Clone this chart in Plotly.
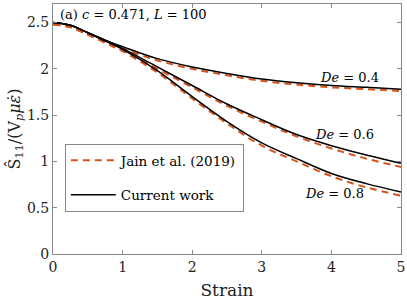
import plotly.graph_objects as go

strain = [0, 0.25, 0.5, 0.75, 1, 1.5, 2, 2.5, 3, 3.5, 4, 4.5, 5]

cur_de04 = [2.50, 2.47, 2.39, 2.31, 2.24, 2.11, 2.02, 1.95, 1.89, 1.85, 1.82, 1.80, 1.78]
cur_de06 = [2.50, 2.47, 2.39, 2.31, 2.22, 2.02, 1.82, 1.62, 1.45, 1.29, 1.17, 1.07, 0.98]
cur_de08 = [2.50, 2.47, 2.39, 2.30, 2.21, 1.98, 1.70, 1.43, 1.20, 1.03, 0.87, 0.76, 0.67]

jain_de04 = [2.48, 2.45, 2.37, 2.29, 2.22, 2.09, 2.00, 1.93, 1.87, 1.83, 1.80, 1.78, 1.76]
jain_de06 = [2.48, 2.45, 2.37, 2.29, 2.20, 2.00, 1.80, 1.60, 1.43, 1.27, 1.14, 1.03, 0.94]
jain_de08 = [2.48, 2.45, 2.37, 2.28, 2.19, 1.96, 1.68, 1.41, 1.17, 1.00, 0.84, 0.72, 0.63]

x_ticks = [0, 1, 2, 3, 4, 5]
y_ticks = [0, 0.5, 1, 1.5, 2, 2.5]
y_tick_labels = ["0", "0.5", "1", "1.5", "2", "2.5"]

FONT = "DejaVu Serif"
ORANGE = "#D95319"

fig = go.Figure()

for i, ys in enumerate([jain_de04, jain_de06, jain_de08]):
    fig.add_trace(go.Scatter(
        x=strain, y=ys, mode="lines", line=dict(color=ORANGE, width=2, dash="7px,5px", shape="spline"),
        name="Jain et al. (2019)", legendgroup="jain", showlegend=(i == 0)))

for i, ys in enumerate([cur_de04, cur_de06, cur_de08]):
    fig.add_trace(go.Scatter(
        x=strain, y=ys, mode="lines", line=dict(color="black", width=1.5, shape="spline"),
        name="Current work", legendgroup="cur", showlegend=(i == 0)))

axis_common = dict(showline=True, linecolor="#888888", linewidth=1, mirror="ticks",
                   ticks="inside", ticklen=4, tickcolor="#888888", showgrid=False, zeroline=False,
                   automargin=False,
                   tickfont=dict(family=FONT, size=14, color="#222"))

fig.update_xaxes(range=[0, 5], tickvals=x_ticks, **axis_common,
                 title=dict(text="Strain", font=dict(family=FONT, size=17, color="#222"), standoff=10))
fig.update_yaxes(range=[0, 2.7], tickvals=y_ticks, ticktext=y_tick_labels, **axis_common,
                 title=dict(text="Ŝ<sub>11</sub>/(V<sub><i>p</i></sub><i>με̇</i>)",
                            font=dict(family=FONT, size=16, color="#222"), standoff=2))

ann_font = dict(family=FONT, size=13, color="black")
fig.add_annotation(x=0.015, y=0.995, xref="paper", yref="paper", xanchor="left", yanchor="top",
                   text="(a) <i>c</i> = 0.471, <i>L</i> = 100", showarrow=False, font=ann_font)
fig.add_annotation(x=4.26, y=1.91, text="<i>De</i> = 0.4", showarrow=False, font=ann_font)
fig.add_annotation(x=4.19, y=1.29, text="<i>De</i> = 0.6", showarrow=False, font=ann_font)
fig.add_annotation(x=4.05, y=0.65, text="<i>De</i> = 0.8", showarrow=False, font=ann_font)

fig.update_layout(
    width=407, height=305,
    margin=dict(l=53, r=6, t=4, b=51),
    plot_bgcolor="white", paper_bgcolor="white",
    legend=dict(x=0.034, y=0.44, xanchor="left", yanchor="top",
                bgcolor="white", bordercolor="#888888", borderwidth=1,
                font=dict(family=FONT, size=13.5, color="black"),
                itemwidth=45,
                tracegroupgap=14, traceorder="grouped"),
)

fig.write_html("out.html", config={"displayModeBar": False},
               post_script="document.body.style.margin='0';document.body.style.padding='0';")
